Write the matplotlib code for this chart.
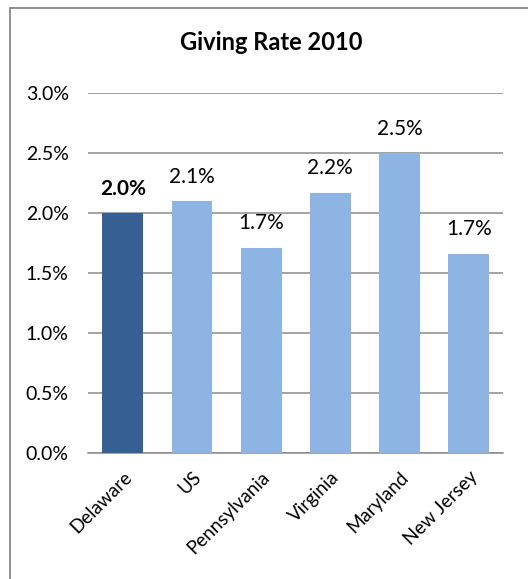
import matplotlib
matplotlib.use("Agg")
import matplotlib.pyplot as plt
from matplotlib.patches import Rectangle
from matplotlib.ticker import FuncFormatter, MultipleLocator
from matplotlib.transforms import ScaledTranslation

# Giving rate by state, 2010 (percent)
states = ["Delaware", "US", "Pennsylvania", "Virginia", "Maryland", "New Jersey"]
rates = [2.0, 2.1, 1.71, 2.17, 2.5, 1.66]
highlight = "Delaware"

DARK = "#376092"
LIGHT = "#8EB4E3"
GRID = "#8A8A8A"

plt.rcParams["font.family"] = ["Lato", "DejaVu Sans"]

fig = plt.figure(figsize=(5.28, 5.79), dpi=100)
ax = fig.add_axes([0.1672, 0.2171, 0.9532 - 0.1672, 0.8389 - 0.2171])

# outer chart frame (only top and left edges fall inside the image)
fig.patches.append(Rectangle((10 / 528, -0.05), 1.2, 1 - 7.5 / 579 + 0.05,
                             transform=fig.transFigure, fill=False,
                             edgecolor="#868686", linewidth=1.3))

colors = [DARK if s == highlight else LIGHT for s in states]
x = range(len(states))
bars = ax.bar(x, rates, width=0.59, color=colors, zorder=3)

for xi, s, v in zip(x, states, rates):
    ax.annotate(f"{v:.1f}%", (xi, v), xytext=(0, 13.5), textcoords="offset points",
                ha="center", va="baseline", fontsize=15,
                fontweight="bold" if s == highlight else "normal", color="black")

ax.set_xlim(-0.5, len(states) - 0.5)
ax.set_ylim(0, 3.0)
ax.yaxis.set_major_locator(MultipleLocator(0.5))
ax.yaxis.set_major_formatter(FuncFormatter(lambda v, p: f"{v:.1f}%"))
ax.grid(axis="y", color=GRID, linewidth=1.1, zorder=0)
ax.set_axisbelow(True)

for side in ("left", "right", "top"):
    ax.spines[side].set_visible(False)
ax.spines["bottom"].set_color(GRID)
ax.spines["bottom"].set_linewidth(1.1)

ax.tick_params(axis="y", length=0, pad=14, labelsize=14)
ax.tick_params(axis="x", length=0, pad=15, labelsize=13.5)
ax.set_xticks(list(x))
ax.set_xticklabels(states, rotation=45, ha="right", va="center",
                   rotation_mode="anchor")
# nudge the slanted category labels slightly to the right
shift = ScaledTranslation(0.06, 0, fig.dpi_scale_trans)
for lbl in ax.get_xticklabels():
    lbl.set_transform(lbl.get_transform() + shift)

fig.text(271 / 528, 1 - 43 / 579, "Giving Rate 2010", ha="center", va="center",
         fontsize=17, fontweight="bold")

fig.savefig("out.png", dpi=100)
